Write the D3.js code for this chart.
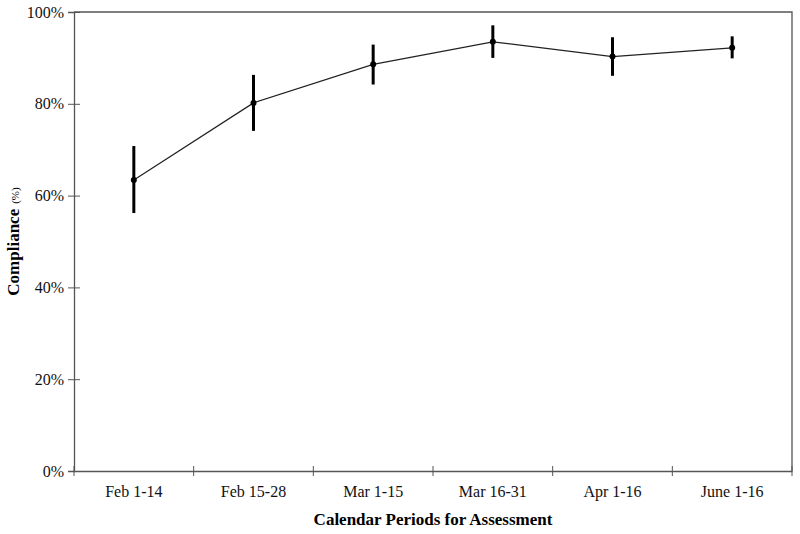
<!DOCTYPE html>
<html>
<head>
<meta charset="utf-8">
<script src="https://cdn.jsdelivr.net/npm/d3@7"></script>
<style>
  body { margin: 0; background: #fff; }
  text { font-family: "Liberation Serif", "Times New Roman", serif; }
</style>
</head>
<body>
<div class="vis-chart"></div>
<script>
const periods = ['Feb 1-14', 'Feb 15-28', 'Mar 1-15', 'Mar 16-31', 'Apr 1-16', 'June 1-16'];
const compliance = [63.4, 80.2, 88.6, 93.5, 90.3, 92.2];
const upper = [70.8, 86.3, 92.9, 97.1, 94.5, 94.7];
const lower = [56.2, 74.1, 84.2, 90.0, 86.1, 89.9];
const yTicks = [0, 20, 40, 60, 80, 100];

const data = periods.map((p, i) => ({ period: p, value: compliance[i], hi: upper[i], lo: lower[i] }));

const margin = { top: 12, right: 8, bottom: 63, left: 74 };
const width = 800 - margin.left - margin.right;
const height = 534 - margin.top - margin.bottom;

const svg = d3
  .select('.vis-chart')
  .append('svg')
  .attr('width', 800)
  .attr('height', 534)
  .append('g')
  .attr('transform', 'translate(' + margin.left + ',' + margin.top + ')');

const x = d3.scaleBand().domain(periods).range([0, width]);
const y = d3.scaleLinear().domain([0, 100]).range([height, 0]);

// frame (top + right)
svg.append('path')
  .attr('d', 'M0,0H' + width + 'V' + height)
  .attr('fill', 'none')
  .attr('stroke', '#555')
  .attr('stroke-width', 1.3);

// y axis
const yAxis = svg.append('g')
  .call(d3.axisLeft(y).tickValues(yTicks).tickSize(6).tickPadding(4).tickFormat((d) => d + '%'));
yAxis.select('.domain').attr('stroke', '#555').attr('stroke-width', 1.3);
yAxis.selectAll('.tick line').attr('stroke', '#555').attr('x2', 6).attr('x1', -6);
yAxis.selectAll('.tick text').style('font-size', '16px').attr('fill', '#111');

// x axis, ticks at category boundaries
const xAxis = svg.append('g')
  .attr('transform', 'translate(0,' + height + ')')
  .call(d3.axisBottom(x).tickSize(0).tickPadding(15));
xAxis.select('.domain').attr('stroke', '#555').attr('stroke-width', 1.3);
xAxis.selectAll('.tick text').style('font-size', '16px').attr('fill', '#111');

const bounds = periods.map((p) => x(p)).concat([width]);
xAxis.selectAll('.bound')
  .data(bounds)
  .enter()
  .append('line')
  .attr('class', 'bound')
  .attr('x1', (d) => d)
  .attr('x2', (d) => d)
  .attr('y1', -5)
  .attr('y2', 5)
  .attr('stroke', '#555');

const cx = (d) => x(d.period) + x.bandwidth() / 2;

// line
svg.append('path')
  .datum(data)
  .attr('fill', 'none')
  .attr('stroke', '#222')
  .attr('stroke-width', 1.2)
  .attr('d', d3.line().x(cx).y((d) => y(d.value)));

// error bars
svg.selectAll('.err')
  .data(data)
  .enter()
  .append('line')
  .attr('class', 'err')
  .attr('x1', cx)
  .attr('x2', cx)
  .attr('y1', (d) => y(d.hi))
  .attr('y2', (d) => y(d.lo))
  .attr('stroke', '#000')
  .attr('stroke-width', 3);

// points
svg.selectAll('.pt')
  .data(data)
  .enter()
  .append('circle')
  .attr('class', 'pt')
  .attr('cx', cx)
  .attr('cy', (d) => y(d.value))
  .attr('r', 3)
  .attr('fill', '#000');

// axis titles
svg.append('text')
  .attr('x', width / 2)
  .attr('y', height + 54)
  .attr('text-anchor', 'middle')
  .style('font-size', '17px')
  .style('font-weight', 'bold')
  .text('Calendar Periods for Assessment');

const yt = svg.append('text')
  .attr('transform', 'translate(-55,' + (height / 2) + ') rotate(-90)')
  .attr('text-anchor', 'middle');
yt.append('tspan').style('font-size', '17px').style('font-weight', 'bold').text('Compliance');
yt.append('tspan').style('font-size', '11px').attr('dx', 5).text('(%)');
</script>
</body>
</html>
